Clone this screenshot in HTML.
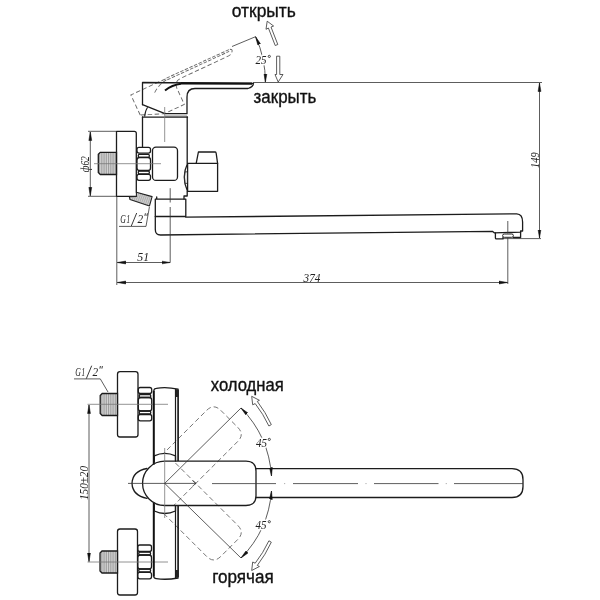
<!DOCTYPE html>
<html><head><meta charset="utf-8"><style>
html,body{margin:0;padding:0;background:#fff;width:600px;height:600px;overflow:hidden}
svg{display:block;will-change:transform}
text{font-family:"Liberation Sans",sans-serif}
.o{fill:none;stroke:#1c1c1c;stroke-width:1.3;stroke-linejoin:round;stroke-linecap:round}
.t{fill:none;stroke:#333;stroke-width:0.8}
.g{fill:none;stroke:#777;stroke-width:0.8}
.d{fill:none;stroke:#707070;stroke-width:0.9;stroke-dasharray:5 3}
.lbl{font-size:17.5px;fill:#111;stroke:#111;stroke-width:0.35px}
.dim{font-family:"Liberation Serif",serif;font-style:italic;font-size:13px;fill:#222}
.halo{stroke:#fff;stroke-width:3px;paint-order:stroke;stroke-linejoin:round}
</style></head><body>
<svg width="600" height="600" viewBox="0 0 600 600">
<defs>
<marker id="ar" viewBox="0 0 10 10" refX="10" refY="5" markerWidth="8.5" markerHeight="8.5" markerUnits="userSpaceOnUse" orient="auto-start-reverse"><path d="M0,3.3 L10,5 L0,6.7 z" fill="#111" stroke="#111" stroke-width="0.6"/></marker>
<pattern id="hatch" width="1.8" height="4" patternUnits="userSpaceOnUse"><rect width="1.8" height="4" fill="#d6d6d6"/><rect width="0.6" height="4" fill="#808080"/></pattern>
<pattern id="hatch2" width="2" height="4" patternUnits="userSpaceOnUse" patternTransform="rotate(20)"><rect width="2" height="4" fill="#cfcfcf"/><rect width="0.6" height="4" fill="#999"/></pattern>
</defs>

<!-- ============ TOP VIEW (side elevation) ============ -->
<!-- labels -->
<text class="lbl" x="231.8" y="16.5" textLength="64" lengthAdjust="spacingAndGlyphs">открыть</text>
<text class="lbl" x="253.6" y="102.8" textLength="62.7" lengthAdjust="spacingAndGlyphs">закрыть</text>

<!-- reference horizontal line -->
<line class="t" x1="253" y1="82.5" x2="542" y2="82.5"/>
<!-- right dim 149 -->
<line class="t" x1="539.5" y1="83" x2="539.5" y2="238" marker-start="url(#ar)" marker-end="url(#ar)"/>
<line class="t" x1="503" y1="238.6" x2="541" y2="238.6"/>
<text class="dim" transform="translate(538.6,160.2) rotate(-90)" text-anchor="middle" textLength="15.5" lengthAdjust="spacingAndGlyphs" font-size="14">149</text>

<!-- rotated handle line + 25deg dim -->
<line class="t" x1="232" y1="46.5" x2="256" y2="36.5"/>
<path class="t" d="M255.6,36.7 A108.5,108.5 0 0 1 265.4,82.2" marker-start="url(#ar)" marker-end="url(#ar)"/>
<text class="dim halo" x="255.5" y="63.5" textLength="11" lengthAdjust="spacingAndGlyphs">25</text><circle cx="269.3" cy="56.4" r="1.1" fill="none" stroke="#333" stroke-width="0.9"/>
<!-- open arrow (hollow) -->
<path fill="#fff" stroke="#333" stroke-width="0.8" d="M267.2,21.2 L273.6,26 L271,27 L277.8,44.5 L275.2,45.5 L268.4,28 L266,29.3 Z"/>
<!-- close arrow (hollow) -->
<path fill="#fff" stroke="#333" stroke-width="0.8" d="M276.6,56.2 L279.8,56.2 L279.8,74.5 L283,74.5 L278.2,82 L275,74.5 L276.6,74.5 Z"/>

<!-- dashed rotated handle -->
<g transform="rotate(-25 164.7 115)" fill="none" stroke="#666" stroke-width="0.9" stroke-dasharray="4.5 2.5">
<path d="M142.5,104.7 L142.5,82.5 L182,82.6"/>
<path d="M182,82.3 L251,82.9 M182,84.2 L250,84.6" stroke-dasharray="3.5 1.5"/>
<path d="M251.5,83 Q254.5,84.5 252,86.5 Q250,88.5 247,88.5 L195,88.5 Q187,88.5 187,96.5 L187,113.7 L165,113.7 L142.5,104.7"/>
<path d="M165,90.5 Q172,85 181,83.8"/>
</g>

<!-- handle -->
<path class="o" d="M142.5,104.7 L142.5,82.5 L253,83.3"/>
<path fill="none" stroke="#111" stroke-width="2.4" d="M181,83.4 L252,83.6"/>
<path class="o" d="M142.5,104.7 L165,113.7 L187,113.7 L187,97 Q187,88.5 195,88.5 L248,88.5 Q253,87 253.5,83.3"/>
<path fill="none" stroke="#111" stroke-width="2" d="M165,90.5 Q172,85 181,83.8"/>
<path fill="none" stroke="#222" stroke-width="1.1" d="M144.6,116.6 Q145.2,110.5 147.6,107.2"/>

<!-- body -->
<rect x="165" y="114.3" width="22" height="2.6" fill="#c4c4c4"/>
<path class="o" d="M142.5,117.2 L187.5,117.2"/>
<path class="o" d="M142.5,117 L142.5,147"/>
<path class="o" d="M187.2,117 L187.2,163.3"/>
<path class="o" d="M187.2,191.3 L187.2,196 L184,196 L184,199"/>
<line class="g" x1="164.7" y1="107" x2="164.7" y2="142"/>

<!-- flange -->
<path class="o" d="M136.3,192.2 L136.3,133.3 Q136.3,131.3 134.3,131.3 L116.5,131.3 L116.5,196.3 L136.3,196.3"/>
<!-- stub hatched -->
<path fill="url(#hatch)" stroke="#1c1c1c" stroke-width="1.3" d="M116.5,152.3 L100.3,152.3 L98.3,154.3 L98.3,172.5 L100.3,174.5 L116.5,174.5 Z"/>
<!-- nut -->
<g class="o">
<rect x="137" y="147.3" width="13.5" height="5.8" rx="2"/>
<rect x="138.3" y="154.3" width="11" height="3" rx="1"/>
<rect x="137" y="157.5" width="13.5" height="13" rx="2.5"/>
<rect x="138.3" y="171" width="11" height="3" rx="1"/>
<rect x="137" y="174.3" width="13.5" height="6" rx="2"/>
</g>
<!-- union -->
<rect class="o" x="152.5" y="147.2" width="25" height="33.2" rx="3.5"/>
<line class="g" x1="94" y1="163.7" x2="161" y2="163.7"/>

<!-- phi62 dim -->
<line class="t" x1="88" y1="131.3" x2="116" y2="131.3"/>
<line class="t" x1="88" y1="196.3" x2="116" y2="196.3"/>
<line class="t" x1="90.3" y1="132" x2="90.3" y2="195.8" marker-start="url(#ar)" marker-end="url(#ar)"/>
<text class="dim" transform="translate(89.2,164.2) rotate(-90)" text-anchor="middle" textLength="16" lengthAdjust="spacingAndGlyphs" font-size="12.5">ф62</text>

<!-- right cap -->
<rect class="o" x="187.6" y="163.3" width="30" height="28"/>
<path class="o" d="M196.2,163.3 L198.4,152 L215.3,152 Q216,152 216.2,153.5 L217.6,163.3"/>
<path class="o" d="M187.5,163.5 Q181,177 187.5,191.3"/>
<rect class="t" x="184.6" y="171.6" width="2.8" height="12" rx="1.4"/>

<!-- angled G1/2 stub -->
<path fill="url(#hatch2)" stroke="#222" stroke-width="1.1" stroke-linejoin="round" d="M136.4,192.2 L152.1,196.6 L149.5,205.9 L130,199.6 L129.3,196.6 L136.4,196.4 Z"/>
<g transform="translate(45,-152.7)">
<text class="dim" x="75.2" y="376" textLength="5.6" lengthAdjust="spacingAndGlyphs" font-size="12.5">G</text><text class="dim" x="81.4" y="376" textLength="3.6" lengthAdjust="spacingAndGlyphs" font-size="12.5">1</text>
<line x1="86.3" y1="378.7" x2="91.7" y2="365.7" stroke="#222" stroke-width="0.9"/>
<text class="dim" x="92.4" y="376" textLength="5.6" lengthAdjust="spacingAndGlyphs" font-size="12.5">2</text>
<path d="M100.4,366 L99.9,368.6 M102.4,366 L101.9,368.6" stroke="#222" stroke-width="0.9"/>
</g>
<line class="t" x1="119" y1="226.4" x2="146" y2="226.4"/>
<line class="t" x1="146" y1="226.4" x2="149.4" y2="207"/>

<!-- collar -->
<path class="o" d="M155.3,216.5 L155.3,199.2 L156.7,199.2 L156.7,197 M155.3,199.2 L185.8,199.2 L185.8,216.5 L155.3,216.5"/>

<!-- spout -->
<path class="o" d="M185.8,217.2 L516.7,213.8 Q522.6,214 522.6,222 L522.6,231 L520.6,231 L520.6,232.2 L494.2,232.8 L492.4,231.3 L160.5,235 Q155.3,235 155.3,229.5 L155.3,216.5"/>
<!-- aerator -->
<path class="o" d="M495.4,232.8 L495.4,238 Q495.4,238.9 496.4,238.9 L503,238.9 L503,237.3 M513.4,237.5 L520.6,237.5 L520.6,232.2"/>
<rect x="502.6" y="234" width="10.8" height="3.3" rx="1.6" fill="#fff" stroke="#222" stroke-width="1"/>

<!-- center lines -->
<line class="t" x1="507.8" y1="221" x2="507.8" y2="233.6"/><line class="t" x1="507.8" y1="237.6" x2="507.8" y2="284"/>
<line class="t" x1="170.2" y1="188.2" x2="170.2" y2="202.5"/><line class="t" x1="170.2" y1="207" x2="170.2" y2="262.8"/>
<line class="t" x1="116.8" y1="196.5" x2="116.8" y2="285"/>

<!-- dims 51 / 374 -->
<line class="t" x1="117.3" y1="262.5" x2="170" y2="262.5" marker-start="url(#ar)" marker-end="url(#ar)"/>
<text class="dim" x="137.3" y="261.4" textLength="11.8" lengthAdjust="spacingAndGlyphs" font-size="14">51</text>
<line class="t" x1="117.3" y1="282.5" x2="507.5" y2="282.5" marker-start="url(#ar)" marker-end="url(#ar)"/>
<text class="dim" x="303.6" y="281.9" textLength="16.8" lengthAdjust="spacingAndGlyphs" font-size="14">374</text>

<!-- ============ BOTTOM VIEW (plan) ============ -->
<text class="lbl" x="210.8" y="390.5" textLength="73" lengthAdjust="spacingAndGlyphs">холодная</text>
<text class="lbl" x="212.2" y="583.3" textLength="61.5" lengthAdjust="spacingAndGlyphs">горячая</text>

<!-- G1/2 top label -->
<g transform="translate(0,0)">
<text class="dim" x="75.2" y="376" textLength="5.6" lengthAdjust="spacingAndGlyphs" font-size="12.5">G</text><text class="dim" x="81.4" y="376" textLength="3.6" lengthAdjust="spacingAndGlyphs" font-size="12.5">1</text>
<line x1="86.3" y1="378.7" x2="91.7" y2="365.7" stroke="#222" stroke-width="0.9"/>
<text class="dim" x="92.4" y="376" textLength="5.6" lengthAdjust="spacingAndGlyphs" font-size="12.5">2</text>
<path d="M100.4,366 L99.9,368.6 M102.4,366 L101.9,368.6" stroke="#222" stroke-width="0.9"/>
</g>
<line class="t" x1="74" y1="378.9" x2="100.3" y2="378.9"/>
<line class="t" x1="100.3" y1="378.9" x2="108" y2="392"/>

<!-- upper flange/stub/nut -->
<rect class="o" x="117.5" y="371.7" width="20.5" height="65.3" rx="2.5"/>
<path fill="url(#hatch)" stroke="#1c1c1c" stroke-width="1.3" d="M117.5,393.5 L102.2,393.5 L100.2,395.5 L100.2,413.5 L102.2,415.5 L117.5,415.5 Z"/>
<g class="o">
<rect x="138.3" y="387.5" width="13.4" height="6" rx="2"/>
<rect x="139.3" y="394.5" width="11.4" height="3" rx="1"/>
<rect x="138.3" y="397.5" width="13.4" height="13.5" rx="2.5"/>
<rect x="139.3" y="411" width="11.4" height="3" rx="1"/>
<rect x="138.3" y="414.5" width="13.4" height="6.3" rx="2"/>
</g>
<!-- lower flange/stub/nut -->
<rect class="o" x="117.5" y="529" width="20" height="66" rx="2.5"/>
<path fill="url(#hatch)" stroke="#1c1c1c" stroke-width="1.3" d="M117.5,551 L102,551 L100,553 L100,571 L102,573 L117.5,573 Z"/>
<g class="o">
<rect x="137.8" y="545" width="13.7" height="6.5" rx="2"/>
<rect x="138.8" y="552" width="11.7" height="3" rx="1"/>
<rect x="137.8" y="555" width="13.7" height="14" rx="2.5"/>
<rect x="138.8" y="569" width="11.7" height="3" rx="1"/>
<rect x="137.8" y="572.3" width="13.7" height="6.5" rx="2"/>
</g>

<!-- center lines & 150 dim -->
<line class="g" x1="87.5" y1="404.3" x2="168" y2="404.3"/>
<line class="g" x1="87.5" y1="562" x2="168" y2="562"/>
<line class="t" x1="89" y1="405" x2="89" y2="561.5" marker-start="url(#ar)" marker-end="url(#ar)"/>
<text class="dim" transform="translate(88.3,483) rotate(-90)" text-anchor="middle" textLength="34" lengthAdjust="spacingAndGlyphs" font-size="13.5">150±20</text>

<!-- dashed rotated handles (+-45) -->
<g class="d">
<g transform="rotate(-45 164.7 483.4)"><path d="M150,461.4 L246,461.4 Q256,461.4 256,471.4 L256,495.4 Q256,505.4 246,505.4 L150,505.4"/></g>
<g transform="rotate(45 164.7 483.4)"><path d="M150,461.4 L246,461.4 Q256,461.4 256,471.4 L256,495.4 Q256,505.4 246,505.4 L150,505.4"/></g>
</g>

<!-- opaque pivot region (hides dashed lines) -->
<path fill="#fff" stroke="none" d="M154.3,455.8 Q164.7,450.8 175.5,455.8 L175.5,461 L164.7,461 A22.4,22.4 0 0 0 147,468.5 Q132.5,471 132,483.4 Q132.5,495.5 147,498.3 A22.4,22.4 0 0 0 164.7,505.8 L175.5,505.8 L175.5,511 Q164.7,516 154.3,511 Z"/>

<!-- body (vertical bar) -->
<path fill="none" stroke="#111" stroke-width="2" d="M153.8,391 L153.8,464.5 M153.8,502.5 L153.8,576.5"/>
<path fill="none" stroke="#1a1a1a" stroke-width="1.2" d="M175.5,389 L175.5,461 M175.5,505.5 L175.5,578"/>
<path fill="none" stroke="#111" stroke-width="1.6" d="M178.1,389.5 L178.1,461 M178.1,505.5 L178.1,577.5"/>
<path fill="#222" d="M175.5,389 L178.1,389.5 L178.1,397 L175.8,397 Z M175.5,570 L178.1,570 L178.1,577.5 L175.5,578 Z"/>
<path class="o" d="M153.8,391 Q153.8,388.6 156.3,388.4 Q166,386.6 178.1,389.2"/>
<path class="o" d="M153.8,576.5 Q153.8,578.3 156.3,578.6 Q166,580.2 178.1,578"/>

<!-- collars -->
<path class="o" d="M154.3,462 L154.3,455.8 Q164.7,450.8 175.5,455.8 L175.5,461"/>
<path class="o" d="M154.3,505 L154.3,511 Q164.7,516 175.5,511 L175.5,505.8"/>
<!-- lobe -->
<path class="o" d="M147,468.5 Q132.5,471 132,483.4 Q132.5,495.5 147,498.3"/>
<!-- handle + circle -->
<path class="o" d="M164.7,461.2 L246,461.2 Q256,461.2 256,471.2 L256,495.5 Q256,505.5 246,505.5 L164.7,505.5 A22.15,22.15 0 0 1 164.7,461.2"/>
<!-- spout -->
<path class="o" d="M256,468.7 L512,468.7 Q523,468.7 523,479.7 L523,486.5 Q523,497.5 512,497.5 L256,497.5"/>

<!-- pivot center lines -->
<line class="g" x1="164.7" y1="448" x2="164.7" y2="518"/>
<line class="t" x1="128" y1="483.4" x2="196" y2="483.4"/>
<path class="t" d="M192.5,480.6 L196,483.4 L192.5,486.2"/>
<path class="t" d="M212,483.6 L276,483.6 M293,483.6 L358,483.6 M374,483.6 L438.5,483.6 M454,483.6 L523,483.6"/>
<path fill="none" stroke="#999" stroke-width="0.8" d="M284,483.6 h1.2 M365.4,483.6 h1.2 M445.7,483.6 h1.2"/>
<!-- 45 deg lines -->
<line class="t" x1="164.7" y1="483.4" x2="241" y2="408"/>
<line class="t" x1="164.7" y1="483.4" x2="241" y2="558"/>
<!-- 45 deg arcs -->
<path class="t" d="M241,408 A107,107 0 0 1 271.5,476" marker-start="url(#ar)" marker-end="url(#ar)"/>
<path class="t" d="M271.5,491 A107,107 0 0 1 241,558" marker-start="url(#ar)" marker-end="url(#ar)"/>
<text class="dim halo" x="255.9" y="446.5" textLength="11" lengthAdjust="spacingAndGlyphs">45</text><circle cx="269.3" cy="439.4" r="1.1" fill="none" stroke="#333" stroke-width="0.9"/>
<text class="dim halo" x="255.5" y="528.8" textLength="11" lengthAdjust="spacingAndGlyphs">45</text><circle cx="269.3" cy="521.7" r="1.1" fill="none" stroke="#333" stroke-width="0.9"/>
<!-- hollow curved arrows -->
<path fill="#fff" stroke="#333" stroke-width="0.8" d="M251.7,396.3 L259.4,400.3 L257.3,401.4 A119.5,119.5 0 0 1 271.3,424.6 L268.9,426 A116.5,116.5 0 0 0 255.2,403.6 L252.7,404.8 Z"/>
<path fill="#fff" stroke="#333" stroke-width="0.8" d="M251.7,570.5 L259.4,566.5 L257.3,565.4 A119.5,119.5 0 0 0 271.3,542.2 L268.9,540.8 A116.5,116.5 0 0 1 255.2,563.2 L252.7,562 Z"/>

</svg>
</body></html>
